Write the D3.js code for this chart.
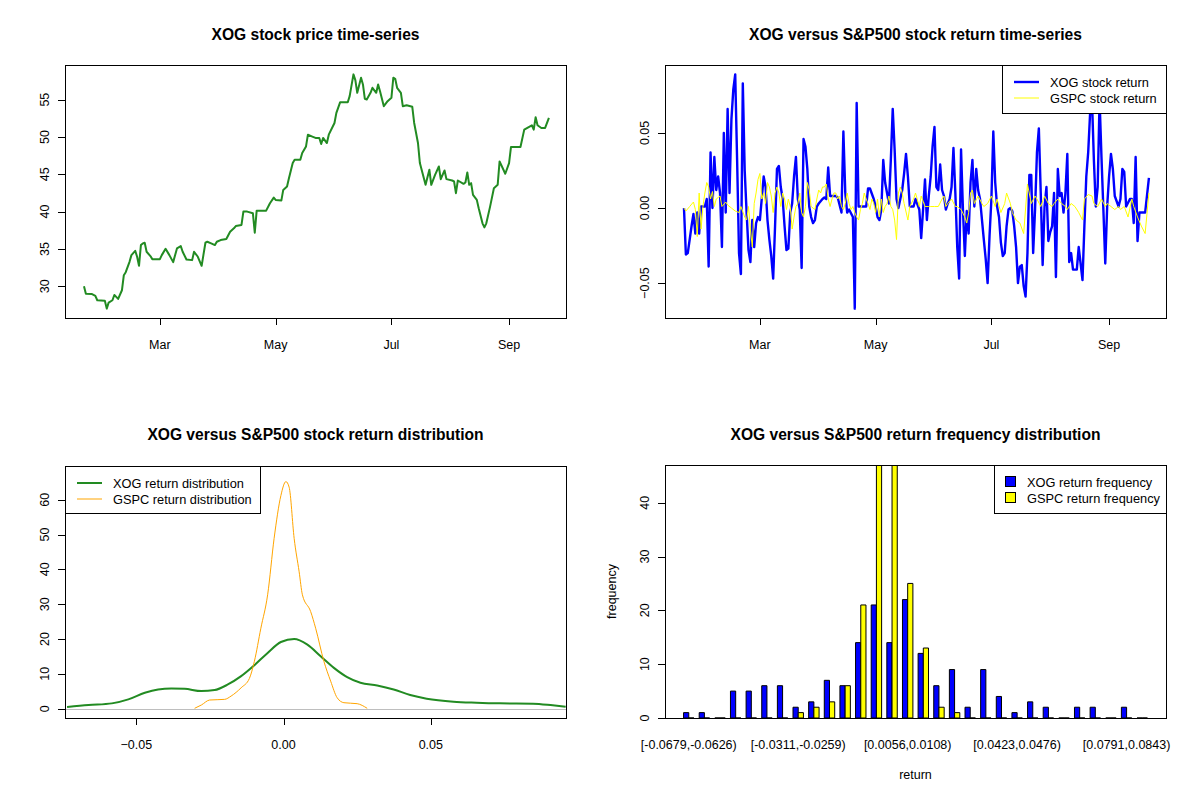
<!DOCTYPE html>
<html>
<head>
<meta charset="utf-8">
<script src="https://cdn.jsdelivr.net/npm/d3@7"></script>
<style>
  body { margin: 0; background: #fff; }
  svg { font-family: "Liberation Sans", Arial, sans-serif; }
  .title { font-size: 15.6px; font-weight: bold; text-anchor: middle; }
  .tick-label { font-size: 12.5px; }
  .legend-label { font-size: 12.8px; }
</style>
</head>
<body>
<svg id="chart" width="1200" height="800"></svg>
<script>
'use strict';

// ---- data (days counted from 2017-01-20) ----
var START_DATE = new Date(2017, 0, 20);

var priceDays = [0, 1, 4, 6, 7, 11, 12, 13, 15, 16, 17, 18, 20, 21, 22, 24, 25, 27, 28, 29, 30, 31, 32, 33,
  35, 36, 40, 41, 43, 45, 47, 49, 51, 52, 54, 57, 58, 60, 62, 64, 65, 67, 69, 70, 72, 75, 77, 79, 80, 83,
  84, 86, 89, 90, 91, 94, 96, 98, 100, 101, 104, 105, 107, 108, 110, 111, 114, 115, 117, 118, 120, 122,
  124, 125, 126, 128, 129, 132, 133, 135, 139, 140, 142, 143, 144, 146, 147, 148, 149, 151, 152, 154,
  155, 156, 158, 160, 162, 163, 164, 165, 167, 168, 170, 173, 174, 176, 177, 180, 182, 183, 185, 187,
  188, 190, 191, 194, 195, 196, 197, 200, 201, 202, 203, 204, 205, 207, 208, 210, 211, 212, 214, 216,
  218, 219, 222, 224, 225, 230, 232, 236, 237, 238, 239, 241, 243, 245];
var xogPrices = [30.00, 29.01, 28.97, 28.70, 28.12, 28.07, 27.00, 27.80, 28.12, 28.83, 28.57, 28.30,
  29.46, 31.48, 31.88, 33.27, 34.17, 34.75, 33.95, 32.74, 35.52, 35.74, 35.83, 34.62, 34.04, 33.63,
  33.63, 34.17, 35.02, 34.17, 33.23, 35.07, 35.38, 34.62, 33.59, 33.50, 34.62, 33.95, 32.74, 35.83,
  35.96, 35.74, 35.52, 35.96, 36.19, 36.32, 37.31, 37.76, 38.07, 38.21, 40.00, 40.00, 39.78, 37.17,
  40.13, 40.13, 40.13, 41.12, 41.88, 41.57, 41.48, 42.91, 43.36, 44.48, 46.50, 46.95, 46.95, 47.85,
  48.74, 50.31, 50.09, 49.87, 49.87, 49.06, 49.87, 49.19, 50.31, 51.88, 53.23, 54.66, 54.66, 55.47,
  58.39, 57.62, 55.92, 57.94, 57.04, 55.11, 55.02, 55.92, 56.59, 55.92, 57.04, 56.14, 54.13, 54.80,
  55.25, 57.94, 57.80, 56.59, 55.92, 54.13, 54.26, 54.04, 51.88, 49.19, 46.50, 43.59, 45.61, 43.59,
  44.93, 46.05, 44.35, 45.52, 44.35, 44.17, 44.04, 42.47, 44.17, 43.72, 43.90, 45.25, 43.59, 43.81,
  42.24, 41.57, 40.45, 38.43, 37.89, 38.43, 40.67, 43.14, 43.59, 46.73, 45.07, 46.50, 48.65, 48.65,
  50.99, 51.57, 50.99, 52.65, 51.57, 51.21, 51.21, 52.56];

var xogReturnDays = [0, 1, 2, 4, 5, 6, 7, 8, 9, 11, 12, 13, 14, 15, 16, 17, 18, 19, 20, 21, 22, 23, 24,
  25, 26, 27, 28, 29, 30, 31, 32, 33, 34, 35, 36, 37, 38, 39, 40, 42, 43, 44, 45, 46, 47, 48, 49, 50,
  51, 52, 53, 54, 55, 56, 57, 58, 59, 60, 61, 62, 63, 64, 65, 66, 67, 68, 69, 70, 71, 73, 74, 75, 76,
  77, 80, 81, 83, 84, 85, 86, 87, 89, 90, 91, 92, 96, 97, 98, 100, 101, 102, 103, 104, 105, 106, 107,
  108, 109, 110, 111, 112, 113, 114, 115, 116, 117, 118, 119, 121, 122, 124, 125, 126, 127, 128, 129,
  130, 131, 132, 133, 134, 135, 136, 137, 138, 139, 140, 141, 142, 143, 144, 145, 146, 147, 148, 149,
  150, 151, 152, 153, 154, 155, 156, 158, 159, 160, 161, 162, 163, 164, 165, 166, 167, 168, 169, 170,
  171, 172, 173, 174, 175, 176, 177, 178, 179, 180, 181, 182, 183, 184, 185, 186, 187, 188, 189, 190,
  191, 192, 193, 194, 195, 196, 197, 198, 199, 200, 201, 202, 203, 204, 205, 207, 208, 210, 211, 212,
  213, 214, 215, 216, 217, 218, 219, 220, 221, 222, 223, 224, 225, 226, 227, 229, 230, 231, 232, 233,
  235, 236, 237, 238, 239, 240, 242, 243, 245];
var xogReturns = [0.000, -0.031, -0.030, -0.012, -0.004, -0.017, -0.003, -0.017, 0.001, 0.001, 0.006,
  -0.039, 0.037, 0.000, 0.034, 0.012, 0.021, 0.010, -0.026, 0.050, -0.003, 0.066, 0.010, 0.059, 0.079,
  0.089, 0.032, -0.030, -0.044, 0.083, 0.025, -0.003, -0.028, -0.036, -0.008, -0.026, -0.010, -0.006,
  -0.008, 0.021, 0.014, -0.008, -0.021, -0.032, -0.047, -0.012, 0.026, 0.028, 0.014, 0.006, -0.012,
  -0.028, -0.027, -0.003, 0.003, 0.021, 0.034, 0.006, -0.001, -0.040, 0.046, 0.041, 0.026, 0.001,
  -0.006, -0.010, -0.008, 0.001, 0.003, 0.006, 0.007, 0.006, 0.027, 0.008, 0.008, 0.007, -0.003, 0.051,
  0.010, -0.003, -0.001, -0.006, -0.067, 0.070, 0.001, 0.001, 0.013, 0.013, 0.006, 0.001, -0.006,
  -0.008, -0.001, 0.032, 0.017, 0.010, 0.003, 0.032, 0.066, 0.039, 0.006, 0.000, 0.006, 0.012, 0.023,
  0.036, 0.021, 0.001, 0.001, 0.006, -0.001, -0.020, -0.001, 0.019, -0.008, 0.008, 0.021, 0.041, 0.054,
  0.014, 0.012, 0.029, 0.012, 0.008, -0.001, 0.003, 0.006, 0.014, 0.040, 0.010, -0.026, -0.047, 0.039,
  -0.001, -0.032, -0.002, -0.017, 0.017, 0.032, 0.001, 0.026, 0.012, 0.006, -0.021, -0.034, -0.050,
  -0.019, 0.006, 0.051, 0.017, 0.001, -0.006, -0.023, -0.032, -0.030, -0.012, -0.001, 0.000, -0.002,
  -0.012, -0.026, -0.050, -0.039, -0.038, -0.052, -0.059, -0.030, 0.022, 0.022, -0.030, -0.001, 0.037,
  0.053, 0.010, -0.038, 0.001, 0.014, -0.022, -0.016, -0.012, 0.010, -0.046, 0.026, 0.008, 0.010,
  -0.003, 0.010, 0.036, -0.036, -0.030, -0.041, -0.041, -0.026, -0.048, -0.012, 0.021, 0.037, 0.063,
  0.072, 0.032, 0.001, 0.014, 0.072, 0.034, -0.001, -0.037, 0.001, 0.021, 0.036, 0.026, 0.008, 0.001,
  0.006, 0.026, 0.024, 0.001, 0.006, 0.006, -0.010, 0.034, -0.022, -0.003, -0.003, -0.003, 0.020];

var gspcReturnDays = [0, 1, 3, 5, 6, 7, 8, 9, 10, 11, 12, 13, 14, 15, 16, 17, 18, 19, 20, 22, 23, 25, 27,
  29, 30, 32, 33, 34, 35, 36, 37, 38, 39, 40, 41, 42, 43, 44, 45, 46, 47, 48, 49, 50, 51, 52, 53, 54,
  55, 56, 57, 58, 59, 60, 61, 62, 63, 64, 65, 66, 67, 68, 69, 70, 71, 72, 73, 74, 75, 76, 77, 78, 79,
  80, 81, 82, 83, 84, 85, 86, 87, 88, 89, 90, 91, 92, 93, 94, 95, 96, 97, 98, 99, 100, 101, 102, 103,
  104, 105, 106, 107, 108, 109, 110, 111, 112, 113, 114, 115, 116, 118, 119, 121, 122, 124, 125, 127,
  129, 130, 132, 134, 136, 137, 138, 139, 141, 143, 144, 146, 148, 149, 150, 151, 152, 153, 155, 157,
  158, 160, 162, 164, 165, 167, 169, 170, 172, 173, 175, 177, 179, 181, 183, 185, 186, 188, 190, 192,
  194, 195, 197, 199, 201, 202, 204, 206, 208, 210, 211, 213, 215, 216, 218, 220, 222, 223, 225, 227,
  229, 230, 232, 234, 236, 237, 239, 241, 243, 245];
var gspcReturns = [0.000, -0.002, 0.001, 0.004, -0.001, -0.019, 0.010, -0.014, 0.001, 0.010, 0.017,
  0.014, 0.006, 0.011, 0.001, 0.006, 0.007, 0.008, 0.001, 0.004, 0.002, 0.000, -0.002, -0.003, 0.001,
  -0.006, -0.008, 0.001, -0.014, -0.026, 0.003, 0.010, 0.019, 0.023, 0.006, 0.010, 0.003, 0.017, 0.014,
  0.008, -0.003, 0.010, 0.014, 0.010, 0.001, 0.010, 0.006, -0.001, 0.006, 0.001, -0.014, -0.006, 0.001,
  0.003, 0.010, -0.003, -0.006, 0.001, 0.017, 0.012, 0.001, 0.000, -0.001, 0.006, 0.012, 0.010, 0.014,
  0.014, 0.016, 0.006, 0.001, 0.006, 0.010, 0.010, 0.006, 0.008, 0.001, -0.001, 0.003, 0.010, 0.003,
  -0.001, 0.001, -0.003, -0.006, -0.008, -0.001, 0.003, 0.010, 0.006, 0.003, -0.001, 0.006, 0.003,
  -0.003, 0.006, -0.006, 0.006, -0.003, 0.001, 0.003, 0.008, 0.001, -0.001, -0.008, -0.021, 0.010,
  0.014, 0.010, 0.003, -0.008, 0.001, 0.006, 0.010, 0.001, 0.008, 0.001, 0.001, 0.001, 0.001, 0.001,
  0.006, 0.008, 0.001, 0.003, 0.006, 0.001, 0.001, -0.001, -0.006, -0.010, -0.003, 0.010, 0.012, 0.003,
  0.008, 0.003, 0.001, 0.003, 0.008, 0.001, 0.006, -0.003, 0.003, 0.010, 0.003, -0.003, -0.008, -0.010,
  -0.017, 0.016, 0.003, 0.008, 0.006, 0.001, 0.008, 0.003, 0.001, 0.003, 0.006, 0.003, 0.001, -0.001,
  0.003, 0.001, -0.003, -0.008, 0.006, 0.009, 0.008, 0.003, 0.001, 0.006, 0.001, 0.003, 0.001, -0.001,
  0.001, -0.001, 0.001, -0.006, 0.006, 0.001, -0.006, -0.012, -0.017, 0.010];

// kernel density curves
var xogDensityX = [-0.0735, -0.0662, -0.0583, -0.0527, -0.0471, -0.0426, -0.0381, -0.0336, -0.0279,
  -0.0234, -0.0189, -0.0144, -0.0099, -0.0054, -0.0009, 0.0036, 0.0081, 0.0126, 0.0171, 0.0216,
  0.0261, 0.0318, 0.0374, 0.0430, 0.0486, 0.0577, 0.0655, 0.0734, 0.0847, 0.0914, 0.0958];
var xogDensityY = [0.48, 1.05, 1.52, 2.67, 4.57, 5.52, 5.81, 5.71, 5.05, 5.33, 6.95, 9.33, 12.48, 16.0,
  19.14, 20.0, 18.38, 15.05, 11.71, 9.05, 7.43, 6.67, 5.52, 3.90, 2.86, 2.0, 1.71, 1.52, 1.43, 0.95, 0.57];
var gspcDensityX = [-0.0302, -0.0279, -0.0251, -0.0200, -0.0178, -0.0144, -0.0116, -0.0099, -0.0077,
  -0.0054, -0.0032, -0.0009, 0.0008, 0.0019, 0.0036, 0.0053, 0.0064, 0.0092, 0.0109, 0.0137, 0.0160,
  0.0182, 0.0205, 0.0250, 0.0284];
var gspcDensityY = [0.1, 1.05, 2.48, 2.67, 3.62, 6.0, 8.67, 13.6, 23.1, 32.7, 48.9, 61.2, 65.2, 63.6,
  48.9, 39.3, 32.7, 27.9, 23.1, 13.6, 7.9, 3.14, 1.71, 1.43, 0.1];

// return histogram
var binLabels = ['[-0.0679,-0.0626)', '[-0.0626,-0.0574)', '[-0.0574,-0.0521)', '[-0.0521,-0.0469)',
  '[-0.0469,-0.0416)', '[-0.0416,-0.0364)', '[-0.0364,-0.0311)', '[-0.0311,-0.0259)',
  '[-0.0259,-0.0206)', '[-0.0206,-0.0154)', '[-0.0154,-0.0101)', '[-0.0101,-0.0049)',
  '[-0.0049,0.0004)', '[0.0004,0.0056)', '[0.0056,0.0108)', '[0.0108,0.0161)', '[0.0161,0.0213)',
  '[0.0213,0.0266)', '[0.0266,0.0318)', '[0.0318,0.0371)', '[0.0371,0.0423)', '[0.0423,0.0476)',
  '[0.0476,0.0528)', '[0.0528,0.0581)', '[0.0581,0.0633)', '[0.0633,0.0686)', '[0.0686,0.0738)',
  '[0.0738,0.0791)', '[0.0791,0.0843)', '[0.0843,0.0896)'];
var xogFrequency = [1, 1, 0, 5, 5, 6, 6, 2, 3, 7, 6, 14, 21, 14, 22, 12, 6, 9, 2, 9, 4, 1, 3, 2, 0, 2, 2, 0, 2, 0];
var gspcFrequency = [0, 0, 0, 0, 0, 0, 0, 1, 2, 3, 6, 21, 52, 55, 25, 13, 2, 1, 0, 0, 0, 0, 0, 0, 0, 0, 0, 0, 0, 0];

var priceTicks = [30, 35, 40, 45, 50, 55];
var returnTicks = [-0.05, 0, 0.05];
var densityXTicks = [-0.05, 0, 0.05];
var densityYTicks = [0, 10, 20, 30, 40, 50, 60];
var freqTicks = [0, 10, 20, 30, 40];

// ---- layout ----
var PANELS = {
  tl: { x0: 65, x1: 566, y0: 65, y1: 318 },
  tr: { x0: 665, x1: 1166, y0: 65, y1: 318 },
  bl: { x0: 65, x1: 566, y0: 466, y1: 718 },
  br: { x0: 665, x1: 1166, y0: 465, y1: 718 }
};

var svg = d3.select('#chart');

function toDate(d) { return d3.timeDay.offset(START_DATE, d); }

// R style 4% padding round a range
function pad(ext) {
  var r = ext[1] - ext[0];
  return [ext[0] - r * 0.04, ext[1] + r * 0.04];
}

function panelGroup(key) {
  var p = PANELS[key];
  svg.append('clipPath').attr('id', 'clip-' + key)
    .append('rect')
    .attr('x', p.x0).attr('y', p.y0)
    .attr('width', p.x1 - p.x0).attr('height', p.y1 - p.y0);
  return svg.append('g').attr('clip-path', 'url(#clip-' + key + ')');
}

function frame(key) {
  var p = PANELS[key];
  svg.append('rect')
    .attr('x', p.x0 + 0.5).attr('y', p.y0 + 0.5)
    .attr('width', p.x1 - p.x0).attr('height', p.y1 - p.y0)
    .attr('fill', 'none').attr('stroke', '#000').attr('stroke-width', 1);
}

function title(key, text, y) {
  var p = PANELS[key];
  svg.append('text').attr('class', 'title')
    .attr('x', (p.x0 + p.x1) / 2).attr('y', y)
    .text(text);
}

function bottomAxis(key, scale, values, fmt, showTicks) {
  var p = PANELS[key];
  var g = svg.append('g');
  if (showTicks) {
    g.selectAll('line').data(values).enter().append('line')
      .attr('x1', function(d) { return Math.round(scale(d)) + 0.5; })
      .attr('x2', function(d) { return Math.round(scale(d)) + 0.5; })
      .attr('y1', p.y1).attr('y2', p.y1 + 7)
      .attr('stroke', '#000');
  }
  g.selectAll('text').data(values).enter().append('text')
    .attr('class', 'tick-label')
    .attr('x', function(d) { return scale(d); })
    .attr('y', p.y1 + 31)
    .attr('text-anchor', 'middle')
    .text(fmt);
}

function leftAxis(key, scale, values, fmt) {
  var p = PANELS[key];
  var g = svg.append('g');
  g.selectAll('line').data(values).enter().append('line')
    .attr('x1', p.x0 - 7).attr('x2', p.x0)
    .attr('y1', function(d) { return Math.round(scale(d)) + 0.5; })
    .attr('y2', function(d) { return Math.round(scale(d)) + 0.5; })
    .attr('stroke', '#000');
  g.selectAll('text').data(values).enter().append('text')
    .attr('class', 'tick-label')
    .attr('text-anchor', 'middle')
    .attr('transform', function(d) {
      return 'translate(' + (p.x0 - 16) + ',' + scale(d) + ') rotate(-90)';
    })
    .text(fmt);
}

function legendBox(box, items) {
  var g = svg.append('g');
  g.append('rect')
    .attr('x', box.x + 0.5).attr('y', box.y + 0.5)
    .attr('width', box.w).attr('height', box.h)
    .attr('fill', '#fff').attr('stroke', '#000');
  items.forEach(function(it, i) {
    var cy = box.y + 17 + i * 16;
    if (it.type === 'line') {
      g.append('line')
        .attr('x1', box.x + 12).attr('x2', box.x + 37)
        .attr('y1', cy).attr('y2', cy)
        .attr('stroke', it.color).attr('stroke-width', it.width);
    } else {
      g.append('rect')
        .attr('x', box.x + 11.5).attr('y', cy - 5.5)
        .attr('width', 10).attr('height', 10)
        .attr('fill', it.color).attr('stroke', '#000');
    }
    g.append('text').attr('class', 'legend-label')
      .attr('x', box.x + it.textX).attr('y', cy + 4.5)
      .text(it.label);
  });
}

var monthTicks = [new Date(2017, 2, 1), new Date(2017, 4, 1), new Date(2017, 6, 1), new Date(2017, 8, 1)];
var dateDomain = pad(d3.extent(priceDays)).map(toDate);

// ---- top left: price series ----
(function() {
  var p = PANELS.tl;
  var x = d3.scaleTime().domain(dateDomain).range([p.x0, p.x1]);
  var y = d3.scaleLinear().domain(pad(d3.extent(xogPrices))).range([p.y1, p.y0]);
  var data = priceDays.map(function(d, i) { return { date: toDate(d), v: xogPrices[i] }; });

  panelGroup('tl').append('path')
    .datum(data)
    .attr('fill', 'none').attr('stroke', '#228B22').attr('stroke-width', 2)
    .attr('stroke-linejoin', 'round')
    .attr('d', d3.line().x(function(d) { return x(d.date); }).y(function(d) { return y(d.v); }));

  frame('tl');
  bottomAxis('tl', x, monthTicks, d3.timeFormat('%b'), true);
  leftAxis('tl', y, priceTicks, d3.format('d'));
  title('tl', 'XOG stock price time-series', 40);
})();

// ---- top right: return series ----
(function() {
  var p = PANELS.tr;
  var x = d3.scaleTime().domain(dateDomain).range([p.x0, p.x1]);
  var y = d3.scaleLinear().domain(pad(d3.extent(xogReturns))).range([p.y1, p.y0]);
  var line = d3.line().x(function(d) { return x(d.date); }).y(function(d) { return y(d.v); });
  var xog = xogReturnDays.map(function(d, i) { return { date: toDate(d), v: xogReturns[i] }; });
  var gspc = gspcReturnDays.map(function(d, i) { return { date: toDate(d), v: gspcReturns[i] }; });

  var g = panelGroup('tr');
  g.append('path').datum(xog)
    .attr('fill', 'none').attr('stroke', '#0000FF').attr('stroke-width', 2.4)
    .attr('stroke-linejoin', 'round').attr('d', line);
  g.append('path').datum(gspc)
    .attr('fill', 'none').attr('stroke', '#FFFF00').attr('stroke-width', 1)
    .attr('d', line);

  frame('tr');
  bottomAxis('tr', x, monthTicks, d3.timeFormat('%b'), true);
  leftAxis('tr', y, returnTicks, d3.format('.2f'));
  title('tr', 'XOG versus S&P500 stock return time-series', 40);

  legendBox({ x: 1002, y: 65, w: 164, h: 48 }, [
    { type: 'line', color: '#0000FF', width: 2.4, label: 'XOG stock return', textX: 48 },
    { type: 'line', color: '#FFFF00', width: 1, label: 'GSPC stock return', textX: 48 }
  ]);
})();

// ---- bottom left: densities ----
(function() {
  var p = PANELS.bl;
  var x = d3.scaleLinear().domain(pad([-0.0679, 0.0896])).range([p.x0, p.x1]);
  var y = d3.scaleLinear().domain(pad([0, 67])).range([p.y1, p.y0]);
  var line = d3.line().curve(d3.curveMonotoneX)
    .x(function(d) { return x(d[0]); }).y(function(d) { return y(d[1]); });

  var g = panelGroup('bl');
  g.append('line')
    .attr('x1', p.x0).attr('x2', p.x1)
    .attr('y1', Math.round(y(0)) + 0.5).attr('y2', Math.round(y(0)) + 0.5)
    .attr('stroke', '#BEBEBE');
  g.append('path').datum(xogDensityX.map(function(v, i) { return [v, xogDensityY[i]]; }))
    .attr('fill', 'none').attr('stroke', '#228B22').attr('stroke-width', 2).attr('d', line);
  g.append('path').datum(gspcDensityX.map(function(v, i) { return [v, gspcDensityY[i]]; }))
    .attr('fill', 'none').attr('stroke', '#FFA500').attr('stroke-width', 1).attr('d', line);

  frame('bl');
  bottomAxis('bl', x, densityXTicks, d3.format('.2f'), true);
  leftAxis('bl', y, densityYTicks, d3.format('d'));
  title('bl', 'XOG versus S&P500 stock return distribution', 440);

  legendBox({ x: 65, y: 466, w: 195, h: 47 }, [
    { type: 'line', color: '#228B22', width: 2, label: 'XOG return distribution', textX: 48 },
    { type: 'line', color: '#FFA500', width: 1, label: 'GSPC return distribution', textX: 48 }
  ]);
})();

// ---- bottom right: frequency bars ----
(function() {
  var p = PANELS.br;
  var nGroups = binLabels.length;
  // barplot(beside = TRUE): unit-wide bars, one unit gap before each group
  var x = d3.scaleLinear().domain(pad([1, nGroups * 3])).range([p.x0, p.x1]);
  var y = d3.scaleLinear().domain([0, 47]).range([p.y1, p.y0]);
  var series = [
    { values: xogFrequency, color: '#0000FF', offset: 0 },
    { values: gspcFrequency, color: '#FFFF00', offset: 1 }
  ];

  var g = panelGroup('br');
  series.forEach(function(s) {
    g.selectAll(null).data(s.values).enter().append('path')
      .attr('fill', s.color).attr('stroke', '#000').attr('stroke-width', 1)
      .attr('d', function(v, i) {
        var left = x(i * 3 + 1 + s.offset), right = x(i * 3 + 2 + s.offset);
        var top = y(v), base = y(0);
        return 'M' + left + ',' + base + 'H' + right + 'V' + top + 'H' + left + 'Z';
      });
  });

  frame('br');
  var centers = binLabels.map(function(d, i) { return i; }).filter(function(i) { return i % 7 === 0; });
  var groupCenter = d3.scaleLinear().domain([0, 1]).range([x(2), x(5)]);
  bottomAxis('br', groupCenter, centers, function(i) { return binLabels[i]; }, false);
  leftAxis('br', y, freqTicks, d3.format('d'));
  title('br', 'XOG versus S&P500 return frequency distribution', 440);

  svg.append('text').attr('class', 'tick-label')
    .attr('x', (p.x0 + p.x1) / 2).attr('y', 779)
    .attr('text-anchor', 'middle').text('return');
  svg.append('text').attr('class', 'tick-label')
    .attr('text-anchor', 'middle')
    .attr('transform', 'translate(616,' + (p.y0 + p.y1) / 2 + ') rotate(-90)')
    .text('frequency');

  legendBox({ x: 994, y: 465, w: 172, h: 48 }, [
    { type: 'box', color: '#0000FF', label: 'XOG return frequency', textX: 33 },
    { type: 'box', color: '#FFFF00', label: 'GSPC return frequency', textX: 33 }
  ]);
})();
</script>
</body>
</html>
